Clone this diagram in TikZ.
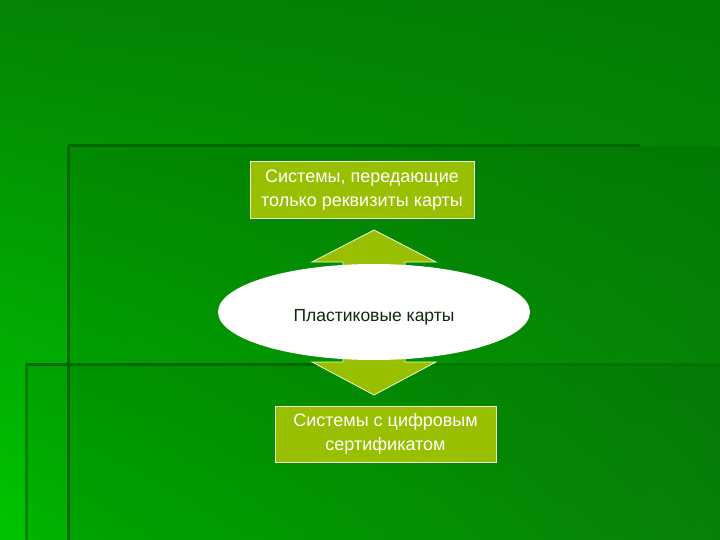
\documentclass[tikz,border=0pt]{standalone}
\usepackage{fontspec}
\setmainfont{Liberation Sans}
\usetikzlibrary{shapes.geometric, positioning, calc, shadings}
\definecolor{bgtop}{RGB}{4,132,4}
\definecolor{bgtopright}{RGB}{2,124,2}
\definecolor{bgbotleft}{RGB}{0,196,0}
\definecolor{bgbotright}{RGB}{10,150,10}
\definecolor{olive}{RGB}{153,192,0}
\definecolor{rule}{RGB}{0,104,0}
\definecolor{dark}{RGB}{16,40,16}

\begin{document}
\begin{tikzpicture}[x=1pt, y=-1pt,
    cardbox/.style={rectangle, draw=white!85!olive, line width=0.8pt, fill=olive,
        text=white, align=center, inner sep=0pt,
        font=\fontsize{18}{23.5}\selectfont},
    cardoval/.style={ellipse, fill=white, inner sep=0pt, text=dark,
        font=\fontsize{17.5}{21}\selectfont},
    blockarrow/.style={fill=olive, draw=white!85!olive, line width=0.8pt, line join=miter}]
    \useasboundingbox (0,0) rectangle (720,540);

    % Draw background.
    \shade[upper left=bgtop, upper right=bgtopright, lower left=bgbotleft,
        lower right=bgbotright] (0,0) rectangle (720,540);
    \fill[black, opacity=0.07] (68,146) rectangle (720,540);
    \fill[black, opacity=0.07] (26,364) rectangle (720,540);

    % Draw dark rules.
    \draw[rule, line width=3pt] (68,146) -- (640,146);
    \draw[rule, line width=3pt] (68,146) -- (68,540);
    \draw[rule, line width=3pt] (26,364) -- (350,364);
    \draw[rule, opacity=0.4, line width=3pt] (350,364) -- (720,364);
    \draw[rule, opacity=0.6, line width=3pt] (26,364) -- (26,540);

    % Draw double arrow.
    \coordinate (uptip) at (374,230);
    \draw[blockarrow] (uptip) -- ++(62,32) -- ++(-31,0) -- ++(0,100) -- ++(31,0)
        -- ++(-62,33) -- ++(-62,-33) -- ++(31,0) -- ++(0,-100) -- ++(-31,0) -- cycle;

    % Draw the three blocks.
    \node[cardoval, minimum width=312, minimum height=96] (cards) at (374,312)
        {\raisebox{-9pt}[0pt][0pt]{Пластиковые карты}};
    \node[cardbox, minimum width=224, minimum height=57] (details) at (362,190)
        {Системы, передающие\\только реквизиты карты};
    \node[cardbox, minimum width=221, minimum height=56] (certificate) at (385.5,434)
        {Системы с цифровым\\сертификатом};
\end{tikzpicture}
\end{document}
